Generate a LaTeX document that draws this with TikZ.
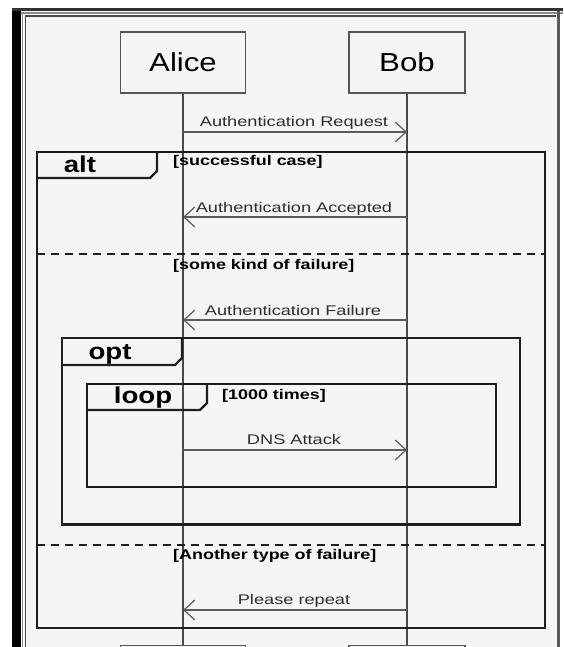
\documentclass[tikz,border=0pt]{standalone}
\usepackage{fontspec}
\setmainfont{Liberation Sans}
\usetikzlibrary{arrows.meta}
\definecolor{bgin}{HTML}{F4F5F4}
\definecolor{framec}{HTML}{1E1E1E}
\definecolor{boxc}{HTML}{555555}
\definecolor{lifec}{HTML}{4A4A4A}
\definecolor{msgc}{HTML}{5A5A5A}
\definecolor{msgtext}{HTML}{2E2E2E}
\newcommand\sx[2]{\scalebox{#1}[1]{#2}}
\begin{document}
\begin{tikzpicture}[x=1pt,y=-1pt,
  actor/.style={draw=boxc, line width=1.5pt, minimum height=61pt, inner sep=0pt,
    font=\fontsize{26}{30}\selectfont},
  lifeline/.style={draw=lifec, line width=1.5pt},
  msg/.style={draw=msgc, line width=1.3pt, -{Straight Barb[length=11pt,width=20pt,line width=1.2pt]}},
  msglabel/.style={anchor=base, inner sep=0pt, text=msgtext, font=\fontsize{14}{16}\selectfont},
  guard/.style={anchor=base west, inner sep=0pt, text=black, font=\bfseries\fontsize{14}{16}\selectfont},
  tablabel/.style={anchor=base, inner sep=0pt, text=black, font=\bfseries\fontsize{23}{26}\selectfont},
  frame/.style={draw=framec, line width=2.2pt},
  divider/.style={draw=framec, line width=2.2pt, dash pattern=on 8pt off 6pt}
]
\useasboundingbox (0,0) rectangle (563,647);
\clip (0,0) rectangle (563,647);
% window frame
\fill[white] (0,0) rectangle (563,647);
\fill[bgin] (24,15) rectangle (557,647);
\fill[black] (12,8) rectangle (20.5,647);
\fill[black!80] (12,8) rectangle (563,11.5);
\draw[black!45, line width=1.2pt] (22.5,13) -- (22.5,647);
\draw[black!45, line width=1.2pt] (21,13) -- (563,13);
\draw[black!70, line width=1.2pt] (25.5,16) -- (25.5,647);
\draw[black!70, line width=1.2pt] (25,16) -- (556,16);
\draw[black!65, line width=2.5pt] (558.5,11) -- (558.5,647);

% actors
\node[actor, minimum width=125pt] (alice) at (183,62.5) {\sx{1.2}{Alice}};
\node[actor, minimum width=116pt] (bob) at (407,62.5) {\sx{1.2}{Bob}};
\node[actor, minimum width=125pt] (aliceb) at (183,676) {};
\node[actor, minimum width=116pt] (bobb) at (407,676) {};
\draw[lifeline] (alice) -- (aliceb);
\draw[lifeline] (bob) -- (bobb);

% alt frame
\draw[frame] (37,152) rectangle (545,628);
\draw[frame] (37,178) -- (150,178) -- (157,171) -- (157,152);
\node[tablabel] (altl) at (80,172) {\sx{1.2}{alt}};
\node[guard] (g1) at (173,166) {\sx{1.28}{[successful case]}};
\draw[divider] (37,254) -- (545,254);
\node[guard] (g2) at (173,269.5) {\sx{1.28}{[some kind of failure]}};
\draw[divider] (37,545) -- (545,545);
\node[guard] (g3) at (173,559.5) {\sx{1.28}{[Another type of failure]}};

% opt frame
\draw[frame] (62,338) rectangle (520,524.5);
\draw[frame] (62,365) -- (175,365) -- (182,358) -- (182,338);
\node[tablabel] (optl) at (110,359) {\sx{1.2}{opt}};

% loop frame
\draw[frame] (87,384) rectangle (496,487);
\draw[frame] (87,410) -- (200,410) -- (207,403) -- (207,384);
\node[tablabel] (loopl) at (143,403) {\sx{1.2}{loop}};
\node[guard] (g4) at (222,399.5) {\sx{1.28}{[1000 times]}};

% messages
\coordinate (a1) at (183,132); \coordinate (b1) at (407,132);
\coordinate (a2) at (183,217); \coordinate (b2) at (407,217);
\coordinate (a3) at (183,320); \coordinate (b3) at (407,320);
\coordinate (a4) at (183,450); \coordinate (b4) at (407,450);
\coordinate (a5) at (183,610); \coordinate (b5) at (407,610);
\draw[msg] (a1) -- (b1);
\draw[msg] (b2) -- (a2);
\draw[msg] (b3) -- (a3);
\draw[msg] (a4) -- (b4);
\draw[msg] (b5) -- (a5);
\node[msglabel] (m1) at (294,127) {\sx{1.3}{Authentication Request}};
\node[msglabel] (m2) at (294,212) {\sx{1.3}{Authentication Accepted}};
\node[msglabel] (m3) at (293,315) {\sx{1.3}{Authentication Failure}};
\node[msglabel] (m4) at (294,444) {\sx{1.3}{DNS Attack}};
\node[msglabel] (m5) at (294,604) {\sx{1.3}{Please repeat}};
\end{tikzpicture}
\end{document}
